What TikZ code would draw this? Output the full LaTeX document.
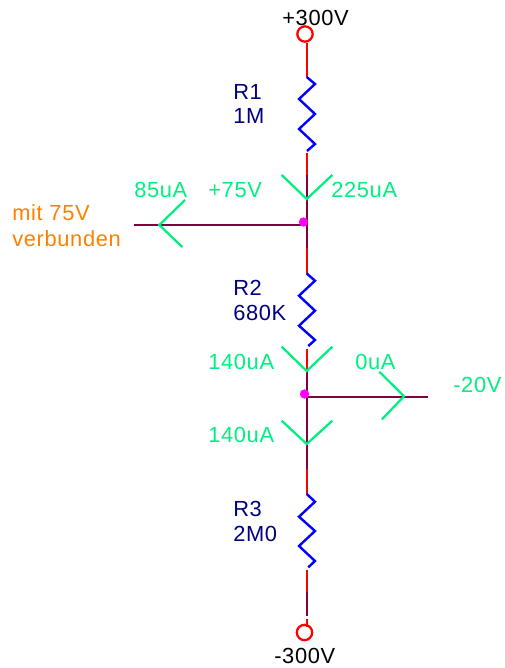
\documentclass[tikz,border=0pt]{standalone}
\usepackage{fontspec}
\setmainfont[LetterSpace=3]{Liberation Sans}
\definecolor{wirered}{RGB}{255,0,0}
\definecolor{wirepurple}{RGB}{128,0,64}
\definecolor{probegreen}{RGB}{0,240,128}
\definecolor{valueblue}{RGB}{0,0,128}
\definecolor{noteorange}{RGB}{255,128,0}
\definecolor{dotmagenta}{RGB}{255,0,255}
\definecolor{zigblue}{RGB}{0,0,255}
\tikzset{
    label text/.style={anchor=base west, inner sep=0pt, font=\fontsize{16.4pt}{19pt}\selectfont},
    partlabel/.style={label text, text=valueblue},
    probelabel/.style={label text, text=probegreen},
    supplylabel/.style={label text, text=black},
    notelabel/.style={label text, text=noteorange},
    terminal/.style={draw=wirered, circle, line width=1.7pt, minimum size=11.5pt, inner sep=0pt},
    junction/.style={fill=dotmagenta, circle, minimum size=7pt, inner sep=0pt},
    redwire/.style={draw=wirered, line width=1.7pt},
    purplewire/.style={draw=wirepurple, line width=1.7pt},
    zigzag/.style={draw=zigblue, line width=1.8pt},
    probe/.style={draw=probegreen, line width=1.7pt}
}
\begin{document}
\begin{tikzpicture}[x=0.75pt, y=-0.75pt]
    \useasboundingbox (0,0) rectangle (504,668);

    %% terminals and junctions
    \node[terminal] (top) at (305,34) {};
    \node[terminal] (bottom) at (304.5,632.5) {};

    \coordinate (a1) at (306.7,43);
    \coordinate (a2) at (306.7,77);
    \coordinate (a3) at (307,151);
    \coordinate (a4) at (306.7,152.5);
    \coordinate (a5) at (306.7,175);
    \coordinate (nA) at (306.7,225);
    \coordinate (a6) at (306.7,248);
    \coordinate (b1) at (306.7,273.5);
    \coordinate (b2) at (308.3,346);
    \coordinate (b3) at (306.7,349);
    \coordinate (b4) at (306.7,371);
    \coordinate (nB) at (306.7,396.7);
    \coordinate (c1) at (306.7,469);
    \coordinate (c2) at (306.7,494);
    \coordinate (c3) at (308.3,567.3);
    \coordinate (c4) at (306.7,569.5);
    \coordinate (c5) at (306.7,592);
    \coordinate (c6) at (306.7,616);
    \coordinate (c7) at (306.7,619);
    \coordinate (c8) at (306.7,627);
    \coordinate (endL) at (134,225);
    \coordinate (endR) at (428,396.7);
    \coordinate (tipL) at (159.3,225);
    \coordinate (tipR) at (404,396.3);
    \coordinate (tipA) at (306.7,199);
    \coordinate (tipB) at (306.7,371);
    \coordinate (tipC) at (306.7,444);

    %% red wires
    \draw[redwire] (a1) -- (a2) (a4) -- (a5) (a6) -- (b1) (b3) -- (b4) (c1) -- (c2) (c4) -- (c5) (c7) -- (c8);

    %% purple wires
    \draw[purplewire] (a5) -- (a6) (endL) -- (nA) (b4) -- (c1) (nB) -- (endR) (c5) -- (c6);

    %% resistors
    \draw[zigzag] (a2) -- (315,84) -- (299,99) -- (315,114) -- (299,129) -- (315,144) -- (a3);
    \draw[zigzag] (b1) -- (315,280.7) -- (299,295.7) -- (315,310.7) -- (299,325.7) -- (315,340) -- (b2);
    \draw[zigzag] (c2) -- (315,501.7) -- (299,516.7) -- (315,531) -- (299,546) -- (315,561) -- (c3);

    %% current probes
    \draw[probe] (281.7,175) -- (tipA) -- (332.3,175);
    \draw[probe] (185,200) -- (tipL) -- (182.3,247);
    \draw[probe] (281.7,346.7) -- (tipB) -- (332.3,346.7);
    \draw[probe] (379.3,371.7) -- (tipR) -- (382,419.3);
    \draw[probe] (281.7,420.7) -- (tipC) -- (332.3,420.7);

    %% junction dots on top of the wires
    \node[junction] (jA) at (303.5,222) {};
    \node[junction] (jB) at (304.5,394) {};

    %% texts
    \node[supplylabel] (vTop) at (282,25) {+300V};
    \node[supplylabel] (vBottom) at (274,663) {-300V};
    \node[partlabel] (r1) at (233,99) {R1};
    \node[partlabel] (r1v) at (233,123) {1M};
    \node[partlabel] (r2) at (233,295) {R2};
    \node[partlabel] (r2v) at (233,320) {680K};
    \node[partlabel] (r3) at (233,516) {R3};
    \node[partlabel] (r3v) at (233,541) {2M0};
    \node[probelabel] (i1) at (134,197.5) {85uA};
    \node[probelabel] (vA) at (208,197.5) {+75V};
    \node[probelabel] (i2) at (331,197.5) {225uA};
    \node[probelabel] (i3) at (208,369) {140uA};
    \node[probelabel] (i4) at (355,369) {0uA};
    \node[probelabel] (vB) at (453,392.5) {-20V};
    \node[probelabel] (i5) at (208,442) {140uA};
    \node[notelabel] (n1) at (12,220.5) {mit 75V};
    \node[notelabel] (n2) at (12,246.5) {verbunden};
\end{tikzpicture}
\end{document}
